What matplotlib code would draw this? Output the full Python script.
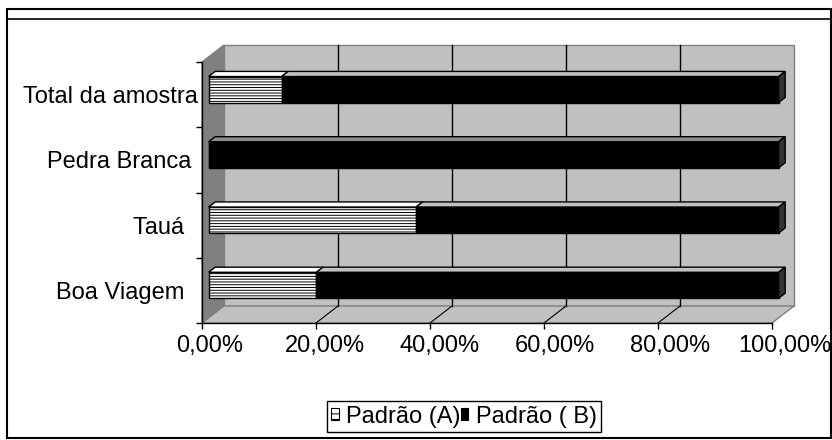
import matplotlib
matplotlib.use('Agg')
import matplotlib.pyplot as plt
from matplotlib.patches import Polygon, Rectangle, Patch
from matplotlib.lines import Line2D

plt.rcParams['font.family'] = ['Liberation Sans', 'DejaVu Sans']
plt.rcParams['hatch.linewidth'] = 0.7

# dados
categorias = ['Boa Viagem  ', 'Tauá  ', 'Pedra Branca ', 'Total da amostra']
padrao_a = [18.9, 36.4, 0.0, 12.8]
padrao_b = [81.1, 63.6, 100.0, 87.2]
ticks_x = [0, 20, 40, 60, 80, 100]
rotulos_x = ['0,00%', '20,00%', '40,00%', '60,00%', '80,00%', '100,00%']
legenda = ['Padrão (A)', 'Padrão ( B)']

W, H = 832, 440
fig = plt.figure(figsize=(W / 100, H / 100), dpi=100)
ax = fig.add_axes([202 / W, 1 - 323 / H, 570 / W, 261 / H])
ax.set_xlim(0, 100)
ax.set_ylim(-0.5, 3.5)

# profundidade do efeito 3D (em unidades de dados)
px_x = 100 / 570
px_y = 4 / 261
dx, dy = 22 * px_x, 17 * px_y
y0, y1 = -0.5, 3.5

# paredes e piso
parede = Polygon([(dx, y0 + dy), (100 + dx, y0 + dy), (100 + dx, y1 + dy), (dx, y1 + dy)],
                 closed=True, fc='#c0c0c0', ec='#808080', lw=1, zorder=0.5, clip_on=False)
lateral = Polygon([(0, y0), (0, y1), (dx, y1 + dy), (dx, y0 + dy)],
                  closed=True, fc='#808080', ec='#808080', lw=1, zorder=0.6, clip_on=False)
piso = Polygon([(0, y0), (100, y0), (100 + dx, y0 + dy), (dx, y0 + dy)],
               closed=True, fc='#c0c0c0', ec='#808080', lw=1, zorder=0.6, clip_on=False)
for p in (parede, lateral, piso):
    ax.add_patch(p)

for t in ticks_x[1:-1]:
    ax.plot([t + dx, t + dx], [y0 + dy, y1 + dy], color='black', lw=1, zorder=0.8, clip_on=False)
    ax.plot([t, t + dx], [y0, y0 + dy], color='black', lw=0.8, zorder=0.8, clip_on=False)

# barras
f1, f2 = 0.3, 0.6
hb = 26 * px_y
pos = [i + f1 * dy for i in range(len(categorias))]
ax.barh(pos, padrao_a, left=f1 * dx, height=hb, color='white', edgecolor='black',
        hatch='------', lw=1, zorder=3, clip_on=False)
ax.barh(pos, padrao_b, left=[a + f1 * dx for a in padrao_a], height=hb, color='black',
        edgecolor='black', lw=1, zorder=3, clip_on=False)

ddx, ddy = (f2 - f1) * dx, (f2 - f1) * dy
for yc, a, b in zip(pos, padrao_a, padrao_b):
    topo = yc + hb / 2
    base = yc - hb / 2
    cor_b = '#c0c0c0' if a > 0 else '#8c8c8c'
    for l, w, c in ((0, a, 'white'), (a, b, cor_b)):
        if w <= 0:
            continue
        x = l + f1 * dx
        ax.add_patch(Polygon([(x, topo), (x + w, topo), (x + w + ddx, topo + ddy), (x + ddx, topo + ddy)],
                             closed=True, fc=c, ec='black', lw=1, zorder=3, clip_on=False))
    xr = a + b + f1 * dx
    ax.add_patch(Polygon([(xr, base), (xr, topo), (xr + ddx, topo + ddy), (xr + ddx, base + ddy)],
                         closed=True, fc='#333333', ec='black', lw=1, zorder=3, clip_on=False))

# eixos
for s in ('top', 'right'):
    ax.spines[s].set_visible(False)
for s in ('left', 'bottom'):
    ax.spines[s].set_color('black')
    ax.spines[s].set_linewidth(1)
    ax.spines[s].set_zorder(2)

ax.set_xticks(ticks_x)
ax.set_xticklabels([])
ax.tick_params(axis='x', direction='out', length=4.3, width=1)
ax.set_yticks(range(len(categorias)))
ax.set_yticklabels(categorias, fontsize=17)
ax.set_yticks([-0.5, 0.5, 1.5, 2.5, 3.5], minor=True)
ax.tick_params(axis='y', which='major', length=0, pad=3)
ax.tick_params(axis='y', which='minor', direction='out', length=4.3, width=1)
ax.set_facecolor('none')

# rótulos do eixo x (espaçamento levemente maior, como no original)
ax_rot = fig.add_axes([210 / W, 1 - 323 / H, 575 / W, 261 / H])
ax_rot.set_xlim(0, 100)
ax_rot.set_xticks(ticks_x)
ax_rot.set_xticklabels(rotulos_x, fontsize=17)
ax_rot.tick_params(axis='x', length=0, pad=8.8)
ax_rot.set_yticks([])
ax_rot.patch.set_visible(False)
for s in ax_rot.spines.values():
    s.set_visible(False)

# legenda
h = [Patch(facecolor='white', edgecolor='black', hatch='---', lw=0.8),
     Patch(facecolor='black', edgecolor='black', lw=0.8)]
leg = fig.legend(h, legenda, loc='center', bbox_to_anchor=(464 / W, 1 - 416.5 / H), ncol=2,
                 fontsize=17, frameon=True, fancybox=False, edgecolor='black', framealpha=1,
                 handlelength=0.3, handleheight=0.35, handletextpad=0.3, columnspacing=0.05,
                 borderpad=0.2, borderaxespad=0)
leg.get_frame().set_linewidth(1)

# moldura
fig.add_artist(Rectangle((7 / W, 1 - 438 / H), 824 / W, 429 / H, transform=fig.transFigure,
                         fill=False, ec='black', lw=1.5))
fig.add_artist(Line2D([7 / W, 831 / W], [1 - 19 / H, 1 - 19 / H], transform=fig.transFigure,
                      color='black', lw=1.2))

fig.savefig('out.png', dpi=100)
